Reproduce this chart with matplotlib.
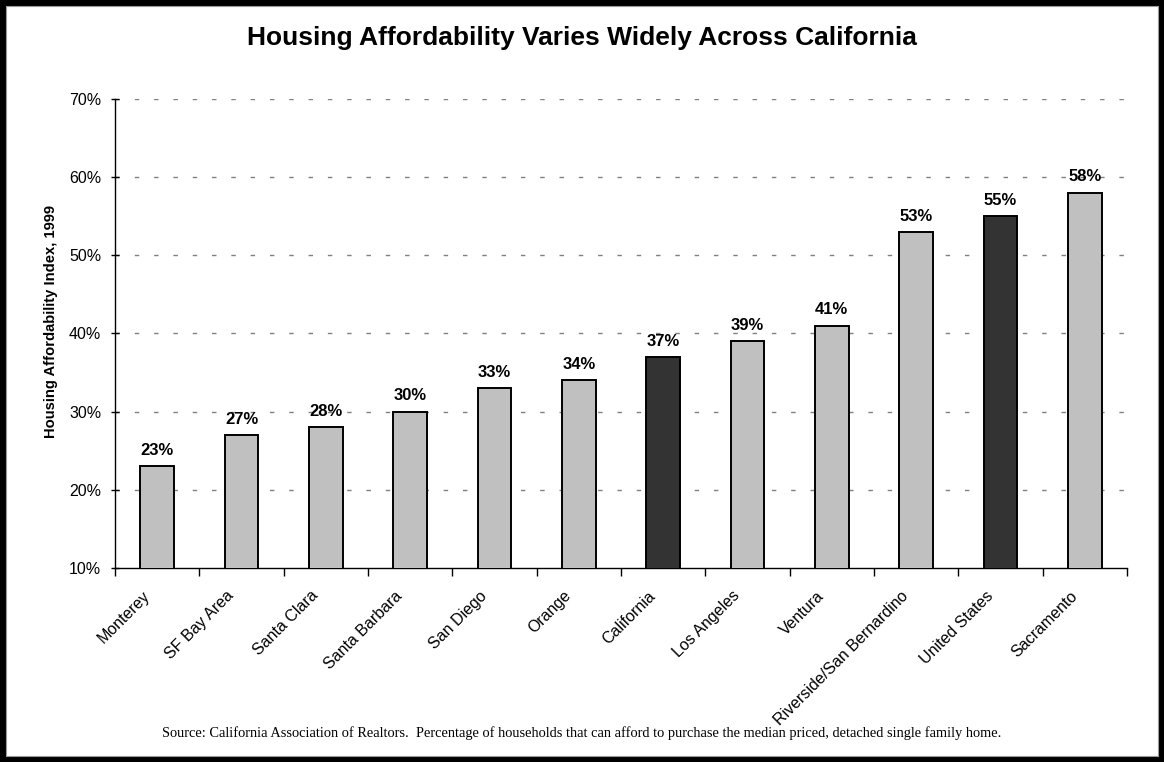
import matplotlib
matplotlib.use("Agg")
import matplotlib.pyplot as plt
from matplotlib.patches import Rectangle
from matplotlib.ticker import FixedLocator, PercentFormatter

regions = ["Monterey", "SF Bay Area", "Santa Clara", "Santa Barbara", "San Diego",
           "Orange", "California", "Los Angeles", "Ventura",
           "Riverside/San Bernardino", "United States", "Sacramento"]
affordability = [23, 27, 28, 30, 33, 34, 37, 39, 41, 53, 55, 58]
benchmarks = {"California", "United States"}
y_ticks = [10, 20, 30, 40, 50, 60, 70]

plt.rcParams["font.family"] = ["Liberation Sans", "DejaVu Sans"]

fig = plt.figure(figsize=(11.64, 7.62), dpi=100)
ax = fig.add_axes([0.0988, 0.2546, 0.8694, 0.6155])

light, dark = "#C0C0C0", "#333333"
colors = [dark if r in benchmarks else light for r in regions]
x = list(range(len(regions)))
ax.bar(x, affordability, width=0.40, bottom=0, color=colors,
       edgecolor="black", linewidth=1.4, zorder=3)

for xi, v in zip(x, affordability):
    ax.annotate(f"{v}%", (xi, v), xytext=(0, 6), textcoords="offset points",
                ha="center", va="bottom", fontsize=12, fontweight="bold")

ax.set_xlim(-0.5, len(regions) - 0.5)
ax.set_ylim(10, 70)
ax.yaxis.set_major_locator(FixedLocator(y_ticks))
ax.yaxis.set_major_formatter(PercentFormatter(decimals=0))
ax.tick_params(axis="y", direction="inout", length=6, width=1, labelsize=11.5, pad=7)

# category boundary ticks on the x axis, labels at category centres
ax.set_xticks([i - 0.5 for i in range(len(regions) + 1)])
ax.set_xticklabels([])
ax.tick_params(axis="x", direction="out", length=6, width=1)
for xi, name in zip(x, regions):
    ax.text(xi - 0.18, -0.043, name, transform=ax.get_xaxis_transform(),
            rotation=45, rotation_mode="anchor", ha="right", va="top",
            fontsize=11.5)

for y in y_ticks[1:]:
    ax.axhline(y, color="#808080", linewidth=1, linestyle=(0, (3.2, 10.7)), zorder=1)

for side in ("top", "right"):
    ax.spines[side].set_visible(False)
for side in ("left", "bottom"):
    ax.spines[side].set_linewidth(1)
    ax.spines[side].set_color("black")

ax.set_ylabel("Housing Affordability Index, 1999", fontsize=10.6, fontweight="bold")
ax.yaxis.set_label_coords(-0.056, 0.525)

fig.text(0.5, 0.95, "Housing Affordability Varies Widely Across California",
         ha="center", va="center", fontsize=19, fontweight="bold")

fig.text(0.5, 0.038,
         "Source: California Association of Realtors.  Percentage of households that can "
         "afford to purchase the median priced, detached single family home.",
         ha="center", va="center", fontsize=10.4, family=["Liberation Serif", "DejaVu Serif"])

# frame around the whole figure
fig.patches.append(Rectangle((0, 0), 1, 1, transform=fig.transFigure, fill=False,
                             edgecolor="black", linewidth=8))
fig.patches.append(Rectangle((0.0055, 0.008), 0.989, 0.984, transform=fig.transFigure,
                             fill=False, edgecolor="#9a9a9a", linewidth=0.8))

fig.savefig("out.png", dpi=100)
